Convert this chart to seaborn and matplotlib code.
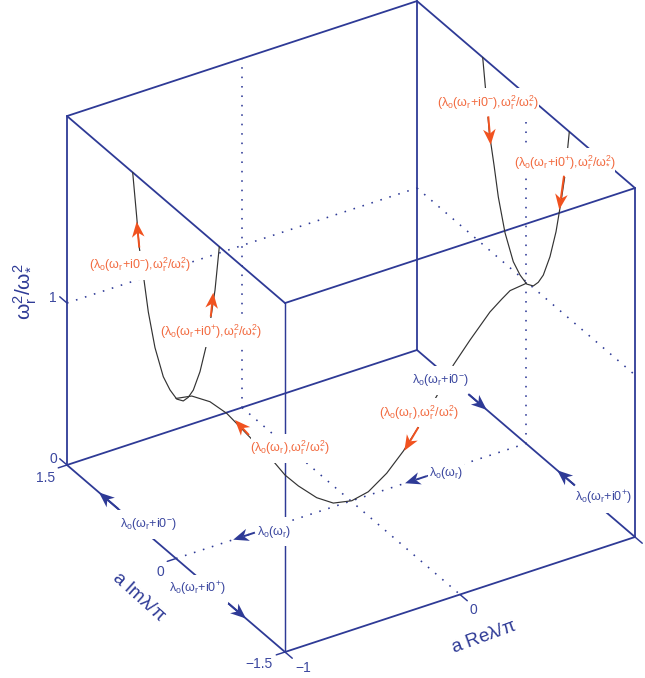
import numpy as np
import pandas as pd
import matplotlib
matplotlib.use("Agg")
import matplotlib.pyplot as plt
from matplotlib.patches import Rectangle
import seaborn as sns

# ---- data -------------------------------------------------------------
re_limits = [-1.0, 1.0]
im_limits = [1.5, -1.5]
w_limits = [0.0, 2.154]

# side parabolas, lying in the planes Re = -1 and Re = +1
side_im = [0.596, 0.541, 0.505, 0.440, 0.381, 0.289, 0.175, 0.083, -0.010,
           -0.100, -0.169, -0.238, -0.330, -0.413, -0.482, -0.537, -0.596]
side_w = [2.154, 1.902, 1.725, 1.549, 1.375, 1.190, 1.055, 1.009, 0.988,
          1.011, 1.060, 1.131, 1.280, 1.466, 1.678, 1.864, 2.154]
# centre curve, lying in the plane Im = 0
mid_re = [-1.0, -0.910, -0.806, -0.710, -0.673, -0.434, -0.377, -0.301, -0.196,
          -0.101, 0.004, 0.099, 0.204, 0.299, 0.385, 0.490, 0.585, 0.680,
          0.794, 0.861, 0.909, 1.0]
mid_w = [0.988, 0.971, 0.899, 0.793, 0.739, 0.387, 0.294, 0.200, 0.090,
         0.023, 0.0, 0.022, 0.099, 0.202, 0.319, 0.474, 0.632, 0.752,
         0.885, 0.940, 0.976, 0.988]

# arrows: (tail Re, Im, w), (tip Re, Im, w)
orange_arrows = [
    ((-1, 0.505, 1.725), (-1, 0.541, 1.871)),
    ((-1, -0.478, 1.677), (-1, -0.513, 1.838)),
    ((-0.583, 0, 0.614), (-0.663, 0, 0.735)),
    ((0.385, 0, 0.319), (0.305, 0, 0.202)),
    ((1, 0.519, 1.820), (1, 0.486, 1.657)),
    ((1, -0.523, 1.854), (1, -0.458, 1.620)),
]
blue_arrows = [
    ((-1, 0.794, 0), (-1, 1.06, 0)),
    ((-1, -0.72, 0), (-1, -0.963, 0)),
    ((1, 0.794, 0), (1, 0.54, 0)),
    ((1, -0.674, 0), (1, -0.43, 0)),
    ((-0.549, 0, 0), (-0.673, 0, 0)),
    ((0.433, 0, 0), (0.309, 0, 0)),
]

label_minus = r"$\lambda_{o}(\omega_{r}$+i0$^{-})$"
label_plus = r"$\lambda_{o}(\omega_{r}$+i0$^{+})$"
label_zero = r"$\lambda_{o}(\omega_{r})$"
pair_minus = r"$(\lambda_{o}(\omega_{r}$+i0$^{-}){,}\omega_{r}^{2}/\omega_{*}^{2})$"
pair_plus = r"$(\lambda_{o}(\omega_{r}$+i0$^{+}){,}\omega_{r}^{2}/\omega_{*}^{2})$"
pair_zero = r"$(\lambda_{o}(\omega_{r}){,}\omega_{r}^{2}/\omega_{*}^{2})$"

BLUE = "#2E3A96"
BLUE_TEXT = "#3B479F"
ORANGE = "#F1521F"
ORANGE_TEXT = "#F26A3F"
CURVE = "#333333"

sns.set_style("white")
plt.rcParams.update({
    "font.family": ["Liberation Sans", "DejaVu Sans"],
    "mathtext.fontset": "custom",
    "mathtext.rm": "Liberation Sans",
    "mathtext.it": "Liberation Sans",
    "mathtext.bf": "Liberation Sans",
    "mathtext.default": "regular",
})


# ---- oblique projection of the box on to the page -----------------------
def proj(re, im, w):
    re, im, w = np.asarray(re, float), np.asarray(im, float), np.asarray(w, float)
    a = (re + 1) / 2
    b = (1.5 - im) / 3
    return 67 + 350 * a + 218 * b, 465 - 115 * a + 187 * b - 162 * w


def segments(segs):
    rows = []
    for i, (p, q) in enumerate(segs):
        for v in (p, q):
            x, y = proj(*v)
            rows.append({"edge": i, "px": float(x), "py": float(y)})
    return pd.DataFrame(rows)


fig = plt.figure(figsize=(6.45, 6.78), dpi=100)
ax = fig.add_axes([0, 0, 1, 1])


def draw(segs, **kw):
    sns.lineplot(data=segments(segs), x="px", y="py", units="edge", estimator=None,
                 sort=False, legend=False, ax=ax, **kw)


r0, r1 = re_limits
i0, i1 = im_limits
w0, w1 = w_limits

# dotted guide lines
dots = dict(color=BLUE, lw=1.15, ls=(0, (1.0, 4.9)), zorder=1)
draw([((r0, i0, 1), (r1, i0, 1)), ((r1, i0, 1), (r1, i1, 1)),
      ((0, i0, w0), (0, i0, w1)), ((0, i0, w0), (0, i1, w0)),
      ((r0, 0, w0), (r1, 0, w0)), ((r1, 0, w0), (r1, 0, w1))], **dots)

# solid box
solid = dict(color=BLUE, lw=1.3, zorder=2)
draw([((r0, i0, w0), (r0, i0, w1)), ((r1, i0, w0), (r1, i0, w1)),
      ((r1, i1, w0), (r1, i1, w1)),
      ((r0, i0, w1), (r1, i0, w1)), ((r1, i0, w1), (r1, i1, w1)),
      ((r1, i1, w1), (r0, i1, w1)), ((r0, i1, w1), (r0, i0, w1)),
      ((r0, i0, w0), (r1, i0, w0)), ((r1, i0, w0), (r1, i1, w0)),
      ((r1, i1, w0), (r0, i1, w0)), ((r0, i1, w0), (r0, i0, w0))], **solid)
draw([((r0, i1, w0), (r0, i1, w1))], color=BLUE, lw=1.05, zorder=2)

# ticks
draw([((r0, i0, 1), (r0, i0 + 0.1, 1)), ((r0, i0, 0), (r0, i0 + 0.1, 0)),
      ((r0, i0, 0), (r0 - 0.05, i0, 0)), ((r0, 0, 0), (r0 - 0.05, 0, 0)),
      ((r0, i1, 0), (r0 - 0.05, i1, 0)), ((r0, i1, 0), (r0, i1 - 0.1, 0)),
      ((0, i1, 0), (0, i1 - 0.1, 0)), ((r1, i1, 0), (r1, i1 - 0.1, 0))],
     color=BLUE, lw=1.05, zorder=2)

# curves
for plane in re_limits:
    x, y = proj(np.full(len(side_im), plane), side_im, side_w)
    sns.lineplot(x=x, y=y, sort=False, estimator=None, color=CURVE, lw=0.85,
                 zorder=3, ax=ax, legend=False)
x, y = proj(mid_re, np.zeros(len(mid_re)), mid_w)
sns.lineplot(x=x, y=y, sort=False, estimator=None, color=CURVE, lw=0.85,
             zorder=3, ax=ax, legend=False)


# white-backed labels
def label(cx, cy, s, color, width, size=9.0):
    ax.add_patch(Rectangle((cx - width / 2, cy - 14.5), width, 29, fc="white",
                           ec="none", zorder=4))
    ax.text(cx, cy, s, color=color, fontsize=size, ha="center", va="center", zorder=6)


label(140, 265, pair_minus, ORANGE_TEXT, 101)
label(211, 332, pair_plus, ORANGE_TEXT, 101)
label(290, 448, pair_zero, ORANGE_TEXT, 78)
label(419.3, 412.7, pair_zero, ORANGE_TEXT, 78)
label(488.3, 102.7, pair_minus, ORANGE_TEXT, 101)
label(564.7, 162.7, pair_plus, ORANGE_TEXT, 101)
label(440.3, 380, label_minus, BLUE_TEXT, 60)
label(445.8, 473.3, label_zero, BLUE_TEXT, 36)
label(603.7, 498.3, label_plus, BLUE_TEXT, 60)
label(274.2, 531.7, label_zero, BLUE_TEXT, 36)
label(148, 524.5, label_minus, BLUE_TEXT, 60)
label(197.5, 589.3, label_plus, BLUE_TEXT, 60)


# arrows with notched heads
def arrow(tail, tip, color):
    t = np.array([float(v) for v in proj(*tail)])
    h = np.array([float(v) for v in proj(*tip)])
    d = (h - t) / np.hypot(*(h - t))
    n = np.array([-d[1], d[0]])
    ln, hw, notch = 15.5, 6.3, 11.0
    neck = h - notch * d
    ax.plot([t[0], neck[0]], [t[1], neck[1]], color=color, lw=1.4, zorder=5,
            solid_capstyle="butt")
    poly = np.array([h, h - ln * d + hw * n, neck, h - ln * d - hw * n])
    ax.fill(poly[:, 0], poly[:, 1], color=color, lw=0, zorder=5)


for tail, tip in orange_arrows:
    arrow(tail, tip, ORANGE)
for tail, tip in blue_arrows:
    arrow(tail, tip, BLUE)

# tick labels
for px, py, s in [(53, 298, "1"), (53, 459, "0"), (46, 478, "1.5"), (160, 571.5, "0"),
                  (259, 664, "\u22121.5"), (303, 668, "\u22121"), (473.5, 610, "0")]:
    ax.text(px, py, s, color=BLUE_TEXT, fontsize=10, ha="center", va="center", zorder=6)

# axis labels
ax.text(25, 292, r"$\omega_{r}^{2}/\omega_{*}^{2}$", color=BLUE, fontsize=15,
        rotation=90, ha="center", va="center", zorder=6)
ax.text(138.5, 597, r"a Im$\lambda/\pi$", color=BLUE, fontsize=13.5, rotation=-42,
        rotation_mode="anchor", ha="center", va="center", zorder=6)
ax.text(483.5, 637, r"a Re$\lambda/\pi$", color=BLUE, fontsize=13.5, rotation=20,
        rotation_mode="anchor", ha="center", va="center", zorder=6)

ax.set_xlim(0, 645)
ax.set_ylim(678, 0)
ax.axis("off")
fig.savefig("out.png", dpi=100, facecolor="white")
